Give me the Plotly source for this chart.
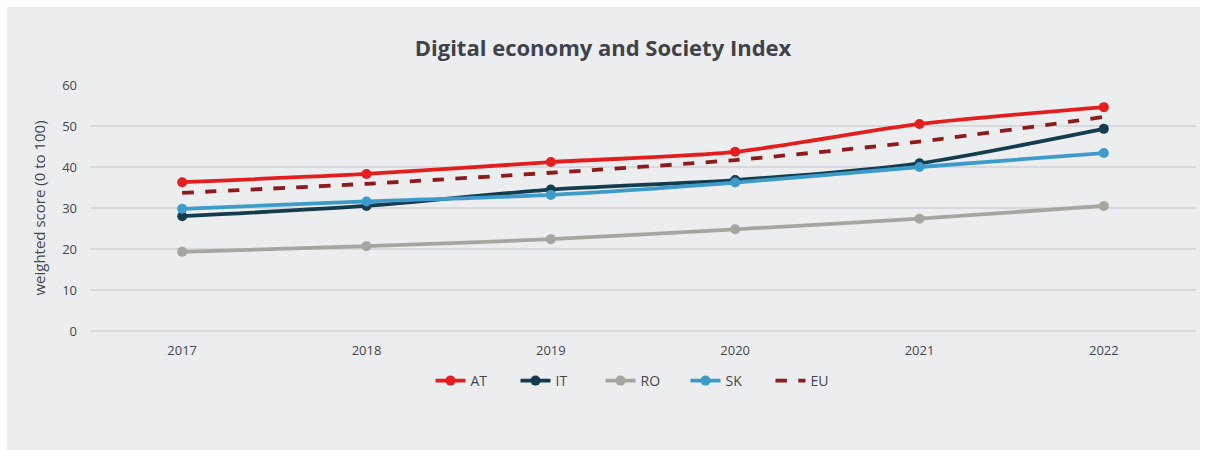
import plotly.graph_objects as go

years = [2017, 2018, 2019, 2020, 2021, 2022]
AT = [36.3, 38.3, 41.2, 43.7, 50.5, 54.6]
IT = [28.0, 30.5, 34.5, 36.8, 40.9, 49.3]
RO = [19.3, 20.7, 22.4, 24.8, 27.4, 30.5]
SK = [29.8, 31.6, 33.2, 36.2, 40.0, 43.4]
EU = [33.7, 35.9, 38.6, 41.7, 46.2, 52.2]

series = [
    ("AT", AT, "#E31E1E", "solid", True),
    ("IT", IT, "#143C4F", "solid", True),
    ("RO", RO, "#A6A6A1", "solid", True),
    ("SK", SK, "#3D9BC9", "solid", True),
    ("EU", EU, "#8C1B1B", "dash", False),
]

fig = go.Figure()
for name, vals, color, dash, markers in series:
    fig.add_trace(go.Scatter(
        x=years, y=vals, name=name,
        mode="lines+markers" if markers else "lines",
        line=dict(color=color, width=3.8, dash=dash, shape="spline", smoothing=0.7),
        marker=dict(size=10, color=color),
    ))

W, H = 1206, 450
ml, mr, mt, mb = 90, 10, 85, 119
pw, ph = W - ml - mr, H - mt - mb

fig.add_shape(type="rect", xref="paper", yref="paper", layer="below",
              x0=(7 - ml) / pw, x1=(1200 - ml) / pw,
              y0=-(mb) / ph, y1=(H - mb - 7) / ph,
              fillcolor="#ECEDEF", line=dict(width=0))

fig.update_layout(
    width=W, height=H,
    margin=dict(l=ml, r=mr, t=mt, b=mb),
    paper_bgcolor="white", plot_bgcolor="rgba(0,0,0,0)",
    font=dict(family="Open Sans", color="#44474C", size=13),
    title=dict(text="<b>Digital economy and Society Index</b>", x=0.5, xanchor="center",
               y=1 - 48 / H, yanchor="middle", yref="container",
               font=dict(size=22, color="#3F4248", family="Open Sans")),
    xaxis=dict(range=[2016.5, 2022.5], tickvals=years, ticktext=[str(y) for y in years],
               showgrid=False, zeroline=False, showline=False, ticks="",
               ticklabelstandoff=10,
               tickfont=dict(size=13, color="#44474C")),
    yaxis=dict(range=[0, 60], dtick=10, showgrid=True, gridcolor="#D8D9DC", gridwidth=1.5,
               zeroline=True, zerolinecolor="#D8D9DC", zerolinewidth=1.5,
               showline=False, ticks="", ticklabelstandoff=12,
               tickfont=dict(size=13, color="#44474C"),
               title=dict(text="weighted score (0 to 100)", font=dict(size=15, color="#44474C"),
                          standoff=12)),
    legend=dict(orientation="h", x=0.5, xanchor="center", y=-(381 - (H - mb)) / ph,
                yanchor="middle", font=dict(size=14, color="#44474C"),
                bgcolor="rgba(0,0,0,0)", traceorder="normal",
                entrywidth=40, entrywidthmode="pixels"),
    showlegend=True,
)

fig.write_html("out.html")
